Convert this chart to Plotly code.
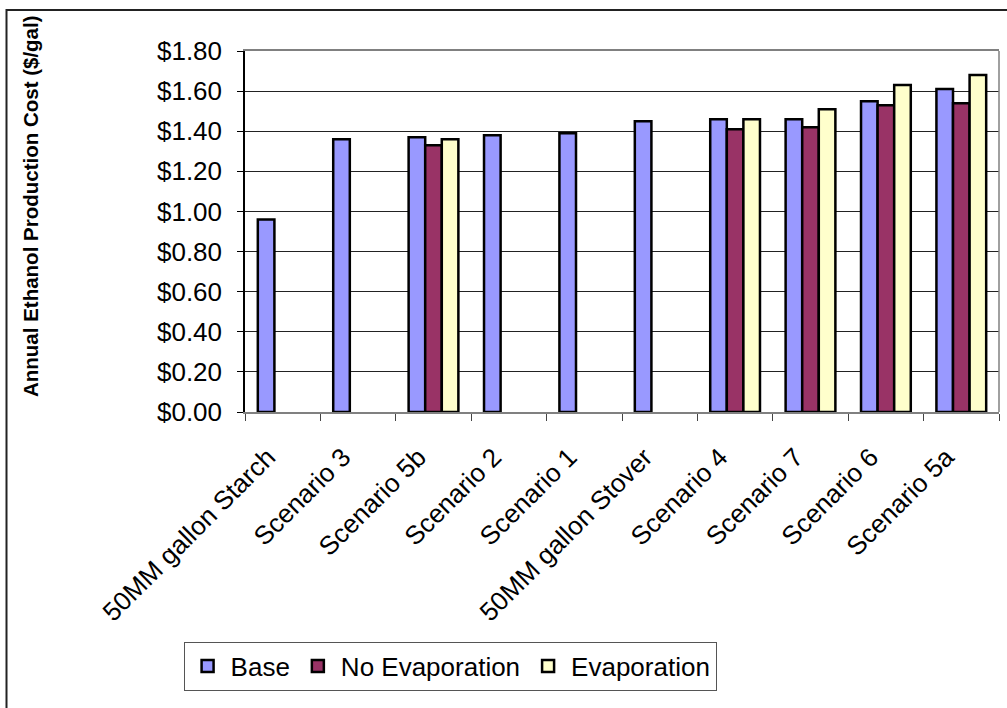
import plotly.graph_objects as go

# Production cost per gallon by scenario
categories = [
    "50MM gallon Starch", "Scenario 3", "Scenario 5b", "Scenario 2", "Scenario 1",
    "50MM gallon Stover", "Scenario 4", "Scenario 7", "Scenario 6", "Scenario 5a",
]
base = [0.96, 1.36, 1.37, 1.38, 1.39, 1.45, 1.46, 1.46, 1.55, 1.61]
no_evaporation = [None, None, 1.33, None, None, None, 1.41, 1.42, 1.53, 1.54]
evaporation = [None, None, 1.36, None, None, None, 1.46, 1.51, 1.63, 1.68]

series = [
    ("Base", base, "#9999FF"),
    ("No Evaporation", no_evaporation, "#993366"),
    ("Evaporation", evaporation, "#FFFFCC"),
]

FONT = "Liberation Sans, Arial, sans-serif"

fig = go.Figure()
for name, vals, color in series:
    fig.add_trace(go.Bar(
        x=categories, y=vals, name=name,
        marker=dict(color=color, line=dict(color="black", width=2.5)),
    ))

fig.update_layout(
    width=1007, height=708,
    margin=dict(l=245, r=8, t=51, b=296),
    paper_bgcolor="white", plot_bgcolor="white",
    barmode="group", bargap=0.34, bargroupgap=0,
    font=dict(family=FONT, size=26, color="black"),
    showlegend=True,
    legend=dict(
        orientation="h", x=0.272, y=-0.704, xanchor="center", yanchor="middle",
        bordercolor="#555555", borderwidth=1, bgcolor="white",
        font=dict(family=FONT, size=26, color="black"),
        itemwidth=36, tracegroupgap=0,
    ),
    xaxis=dict(
        type="category", tickangle=-45, tickson="boundaries",
        ticks="outside", ticklen=7, tickcolor="#444444",
        showline=True, linecolor="#808080", linewidth=1.5, mirror=True,
        showgrid=False, tickfont=dict(size=26),
        ticklabelshift=-15, ticklabelstandoff=18,
    ),
    yaxis=dict(
        range=[0, 1.8], dtick=0.2, tickformat="$.2f",
        ticks="outside", ticklen=6, tickcolor="black",
        showline=True, linecolor="black", linewidth=1.5,
        showgrid=True, gridcolor="#222222", gridwidth=1,
        zeroline=False, tickfont=dict(size=26), ticklabelstandoff=10,
    ),
    shapes=[
        # right edge of plot area
        dict(type="line", xref="paper", yref="paper", x0=1, x1=1, y0=0, y1=1,
             line=dict(color="#808080", width=1.5)),
        # outer chart frame
        dict(type="rect", xref="paper", yref="paper",
             x0=(6.5 - 245) / 754, x1=1.05, y0=-0.9, y1=(412 - 10) / 361,
             line=dict(color="#222222", width=2)),
    ],
    annotations=[
        dict(text="<b>Annual Ethanol Production Cost ($/gal)</b>",
             xref="paper", yref="paper", x=(30 - 245) / 754, y=(412 - 206) / 361,
             xanchor="center", yanchor="middle", textangle=-90, showarrow=False,
             font=dict(family=FONT, size=20.5, color="black")),
    ],
)

fig.write_html("out.html")
